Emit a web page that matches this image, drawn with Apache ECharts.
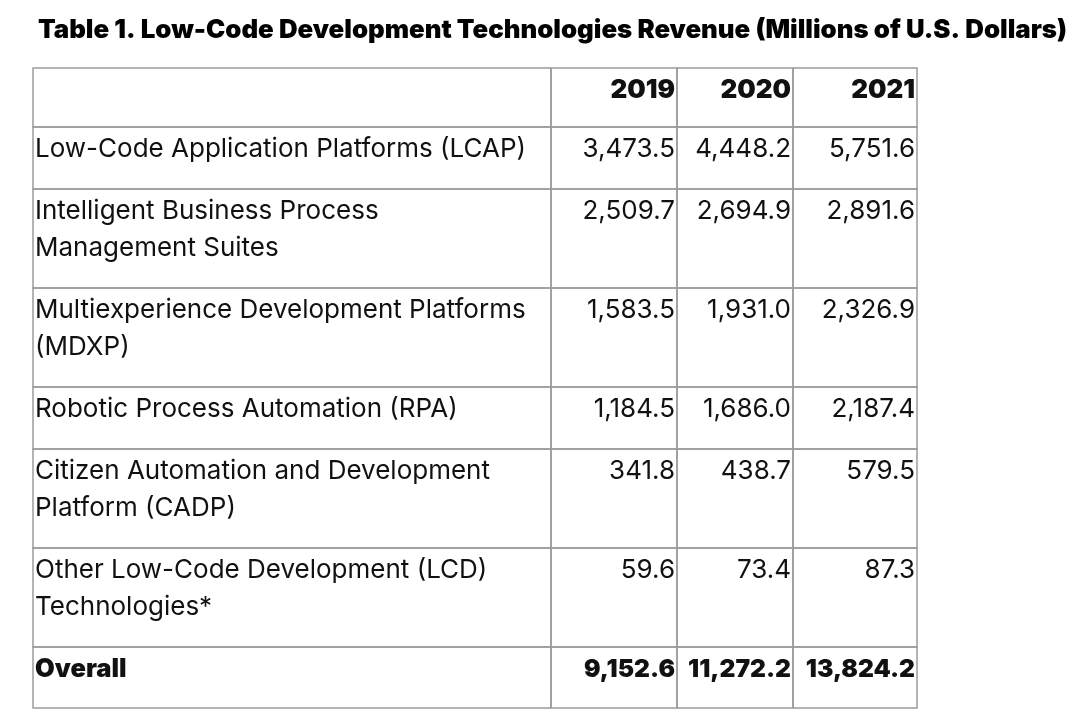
<!DOCTYPE html>
<html>
<head>
<meta charset="utf-8">
<script src="https://cdn.jsdelivr.net/npm/echarts@6/dist/echarts.min.js"></script>
<style>
  html, body { margin: 0; padding: 0; background: #fff; }
  #main { width: 1080px; height: 715px; }
</style>
</head>
<body>
<div id="main"></div>
<script>
var title = 'Table 1. Low-Code Development Technologies Revenue (Millions of U.S. Dollars)';
var years = ['2019', '2020', '2021'];
var categories = [
  'Low-Code Application Platforms (LCAP)',
  'Intelligent Business Process\nManagement Suites',
  'Multiexperience Development Platforms\n(MDXP)',
  'Robotic Process Automation (RPA)',
  'Citizen Automation and Development\nPlatform (CADP)',
  'Other Low-Code Development (LCD)\nTechnologies*'
];
var rev2019 = [3473.5, 2509.7, 1583.5, 1184.5, 341.8, 59.6];
var rev2020 = [4448.2, 2694.9, 1931.0, 1686.0, 438.7, 73.4];
var rev2021 = [5751.6, 2891.6, 2326.9, 2187.4, 579.5, 87.3];
var totalLabel = 'Overall';
var totals = [9152.6, 11272.2, 13824.2];

// table layout in table units (1 unit = 1px)
var colEdges = [0, 518, 644, 760, 884];
var headerH = 59, lineH = 37, rowPad = 25, totalH = 61;

var fmt = function (v) {
  return v.toLocaleString('en-US', {minimumFractionDigits: 1, maximumFractionDigits: 1});
};

// rows: header, categories, overall
var rows = [];
rows.push({cells: [''].concat(years), bold: true, size: 26});
categories.forEach(function (name, i) {
  rows.push({cells: [name, fmt(rev2019[i]), fmt(rev2020[i]), fmt(rev2021[i])], bold: false, size: 26});
});
rows.push({cells: [totalLabel].concat(totals.map(fmt)), bold: true, size: 24.6});

var rowEdges = [0];
rows.forEach(function (row, i) {
  var h;
  if (i === 0) h = headerH;
  else if (i === rows.length - 1) h = totalH;
  else h = rowPad + lineH * row.cells[0].split('\n').length;
  rowEdges.push(rowEdges[i] + h);
});

var cellData = [];
rows.forEach(function (row, r) {
  row.cells.forEach(function (t, c) { cellData.push([c, r]); });
});

var chart = echarts.init(document.getElementById('main'));
chart.setOption({
  backgroundColor: '#fff',
  animation: false,
  title: {
    text: title,
    left: 33,
    top: 12,
    textStyle: {fontFamily: 'Inter', fontWeight: 900, fontSize: 25.8, color: '#000'}
  },
  grid: {left: 33, top: 68, width: 884, height: rowEdges[rowEdges.length - 1]},
  xAxis: {type: 'value', min: 0, max: 884, show: false},
  yAxis: {type: 'value', min: 0, max: rowEdges[rowEdges.length - 1], inverse: true, show: false},
  series: [{
    type: 'custom',
    data: cellData,
    renderItem: function (params, api) {
      var c = api.value(0), r = api.value(1);
      var p0 = api.coord([colEdges[c], rowEdges[r]]);
      var p1 = api.coord([colEdges[c + 1], rowEdges[r + 1]]);
      var row = rows[r];
      return {
        type: 'group',
        children: [{
          type: 'rect',
          shape: {x: p0[0], y: p0[1], width: p1[0] - p0[0], height: p1[1] - p0[1]},
          style: {fill: 'none', stroke: '#9c9c9c', lineWidth: 1.5}
        }, {
          type: 'text',
          style: {
            x: c === 0 ? p0[0] + 2 : p1[0] - 2,
            y: p0[1] + 4,
            text: row.cells[c],
            align: c === 0 ? 'left' : 'right',
            verticalAlign: 'top',
            lineHeight: lineH,
            fontFamily: 'Inter',
            fontSize: c === 0 && row.bold ? 25.5 : row.size,
            fontWeight: row.bold ? 900 : 400,
            fill: '#111'
          }
        }]
      };
    }
  }]
});
</script>
</body>
</html>
